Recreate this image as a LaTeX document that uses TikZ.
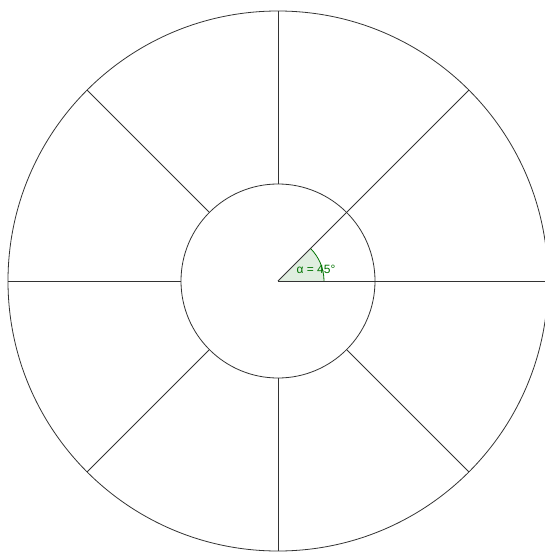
\documentclass[tikz,border=0pt]{standalone}
\usepackage{fontspec}
\setmainfont{Liberation Sans}
\usetikzlibrary{calc}
\begin{document}
\begin{tikzpicture}[x=1pt,y=-1pt,
  seg/.style={draw=black!80,line width=0.8pt},
  angfill/.style={fill=green!45!black,fill opacity=0.12},
  angline/.style={draw=green!45!black,line width=0.8pt},
  anglabel/.style={text=green!45!black,font=\fontsize{12}{14}\selectfont,inner sep=0pt}]
\useasboundingbox (0,0) rectangle (545,552);
\clip (0,0) rectangle (545,552);
\coordinate (O) at (278,281);
% angle sector
\fill[angfill] (O) -- ++(46,0) arc[start angle=0,end angle=-45,radius=46] -- cycle;
\draw[angline] ($(O)+(46,0)$) arc[start angle=0,end angle=-45,radius=46];
% circles
\draw[seg] (O) circle[radius=270];
\draw[seg] (O) circle[radius=97];
% spokes between circles
\foreach \a/\n in {45/a,90/b,135/c,180/d,225/e,270/f}{
  \coordinate (i\n) at ($(O)+(\a:97)$);
  \coordinate (o\n) at ($(O)+(\a:270)$);
  \draw[seg] (i\n) -- (o\n);
}
% rays from centre
\coordinate (r0) at ($(O)+(0:270)$);
\coordinate (r45) at ($(O)+(-45:270)$);
\draw[seg] (O) -- (r0);
\draw[seg] (O) -- (r45);
\node[anglabel] (lab) at (316,269) {α = 45°};
\end{tikzpicture}
\end{document}
